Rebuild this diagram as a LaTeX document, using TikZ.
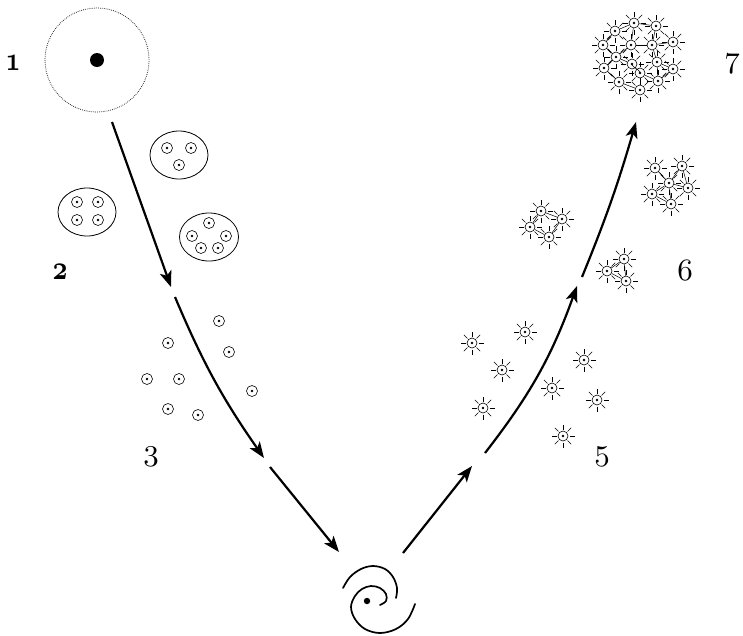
\documentclass[tikz,border=0pt]{standalone}
\usepackage{graphicx}
\usetikzlibrary{arrows.meta,shapes.geometric}
% old-style figures from the math italic font, enlarged
\newcommand{\osf}[1]{\scalebox{3.1}{\usefont{OML}{cmm}{m}{it}#1}}
\newcommand{\osfb}[1]{\scalebox{2.6}[3.4]{\usefont{OML}{cmm}{b}{it}#1}}
\begin{document}
\begin{tikzpicture}[x=1pt,y=-1pt,
  flow/.style={line width=2.2pt,-{Stealth[length=16pt,width=12pt,inset=4pt]}},
  cdot/.style={circle,draw,line width=0.6pt,minimum size=11pt,inner sep=0pt,
     path picture={\fill (path picture bounding box.center) circle (1.4pt);}},
  sun/.style={cdot,minimum size=10pt},
  ray/.style={line width=0.5pt},
  bond/.style={line width=0.5pt},
  cell/.style={ellipse,draw,line width=0.8pt,minimum width=58pt,minimum height=48pt,inner sep=0pt},
  stage/.style={font=\fontsize{10}{12}\selectfont,inner sep=0pt},
]
\useasboundingbox (0,0) rectangle (743,635);

% stage labels
\node[stage] (l1) at (13,63) {\osfb{1}};
\node[stage] (l2) at (60,272) {\osfb{2}};
\node[stage] (l3) at (151,457) {\osf{3}};
\node[stage] (l5) at (602,457) {\osf{5}};
\node[stage] (l6) at (685,271) {\osf{6}};
\node[stage] (l7) at (732,64) {\osf{7}};

% 1: the seed
\node[circle,draw=black!90,line width=0.8pt,dash pattern=on 0.7pt off 1.2pt,minimum size=104pt] (seed) at (97,60) {};
\fill (seed.center) circle (7pt);

% 2: cells with nuclei
\node[cell] (ca) at (87,212) {};
\node[cdot] at (77,202) {};
\node[cdot] at (98,202) {};
\node[cdot] at (77,220) {};
\node[cdot] at (98,220) {};
\node[cell] (cb) at (179,155) {};
\node[cdot] at (167,148) {};
\node[cdot] at (191,148) {};
\node[cdot] at (179,165) {};
\node[cell,minimum width=59pt] (cc) at (209,237) {};
\node[cdot] at (209,223) {};
\node[cdot] at (192,236) {};
\node[cdot] at (226,236) {};
\node[cdot] at (201,248) {};
\node[cdot] at (218,248) {};

% 3: loose nuclei
\foreach \p [count=\i] in {(219,321),(168,343),(229,352),(147,379),(179,379),(252,391),(168,409),(198,415)}
  \node[cdot] (n\i) at \p {};

% 4: the spiral
\draw[line width=1.7pt,line cap=round] plot[smooth,tension=0.6] coordinates
  {(343,588) (350,577) (361,569) (373,566) (385,569) (393,577) (397,588) (396,598)};
\draw[line width=1.7pt,line cap=round] plot[smooth,tension=0.6] coordinates
  {(415,604) (408,619) (396,629) (380,633) (365,629) (355,619) (351,607) (355,596) (362,589) (371,586) (380,588) (386,594) (386,601) (380,605)};
\fill (367,601) circle (3.2pt);

% 5: single stars
\foreach \p [count=\i] in {(472,343),(525,332),(502,370),(584,360),(552,388),(483,408),(597,400),(563,436)}
  \node[sun] (s\i) at \p {};

% 6: small clusters
\node[sun] (a1) at (541,211) {};
\node[sun] (a2) at (562,219) {};
\node[sun] (a3) at (530,227) {};
\node[sun] (a4) at (549,237) {};
\node[sun] (b1) at (624,259) {};
\node[sun] (b2) at (607,271) {};
\node[sun] (b3) at (626,281) {};
\node[sun] (c1) at (655,168) {};
\node[sun] (c2) at (682,166) {};
\node[sun] (c3) at (669,183) {};
\node[sun] (c4) at (688,188) {};
\node[sun] (c5) at (652,194) {};
\node[sun] (c6) at (671,204) {};

% 7: the large cluster
\foreach \p [count=\i] in {(634,23),(656,26),(615,31),(603,45),(631,45),(652,45),(673,42),(616,57),
  (632,64),(657,62),(604,68),(640,73),(673,69),(658,81),(619,82),(640,90)}
  \node[sun] (p\i) at \p {};

% rays of every star
\foreach \s in {s1,s2,s3,s4,s5,s6,s7,s8,a1,a2,a3,a4,b1,b2,b3,c1,c2,c3,c4,c5,c6,
  p1,p2,p3,p4,p5,p6,p7,p8,p9,p10,p11,p12,p13,p14,p15,p16}
  \foreach \a in {0,45,...,315}
    \draw[ray] (\s.center) ++(\a:6.5pt) -- ++(\a:5pt);

% bonds within clusters
\foreach \u/\v in {a1/a2,a1/a3,a3/a4,a2/a4,b1/b2,b1/b3,b2/b3,
  c1/c3,c2/c3,c3/c4,c3/c5,c3/c6,c5/c6,c2/c4,
  p1/p2,p1/p3,p1/p5,p2/p6,p3/p4,p4/p8,p5/p6,p5/p8,p6/p7,p6/p10,p8/p9,p8/p11,
  p9/p12,p10/p13,p10/p14,p11/p15,p12/p14,p12/p16,p13/p14,p15/p16}
  \draw[bond] (\u) -- (\v);

% the path of development
\coordinate (f0) at (112,122);
\coordinate (f1) at (171,287);
\coordinate (f2) at (175,297);
\coordinate (f3) at (264,458);
\coordinate (f4) at (270,467);
\coordinate (f5) at (339,552);
\coordinate (g0) at (403,553);
\coordinate (g1) at (472,466);
\coordinate (g2) at (485,453);
\coordinate (g3) at (577,286);
\coordinate (g4) at (582,277);
\coordinate (g5) at (636,122);
\draw[flow] (f0) -- (f1);
\draw[flow] (f2) to[bend right=6] (f3);
\draw[flow] (f4) -- (f5);
\draw[flow] (g0) -- (g1);
\draw[flow] (g2) to[bend right=9] (g3);
\draw[flow] (g4) to[bend right=3] (g5);
\end{tikzpicture}
\end{document}
